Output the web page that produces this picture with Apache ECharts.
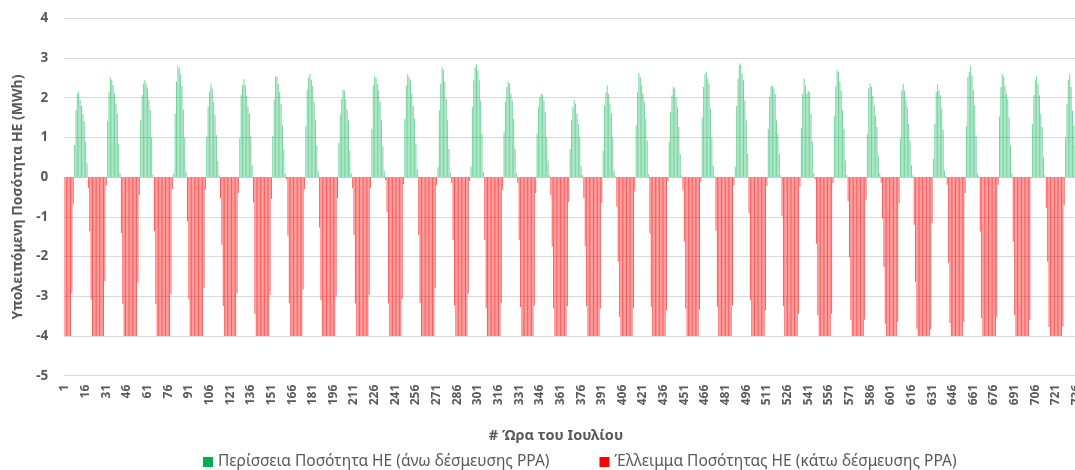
<!DOCTYPE html>
<html><head><meta charset="utf-8">
<script src="https://cdn.jsdelivr.net/npm/echarts@6/dist/echarts.min.js"></script>
<style>html,body{margin:0;padding:0;background:#fff;overflow:hidden;width:1075px;height:470px}#c{width:1090px;height:470px}</style>
</head><body><div id="c"></div>
<script>
// Net hourly quantity (MWh) per day of July, 24 values per day
const day01 = [-4,-4,-4,-4,-4,-2.91,-0.69,0.81,1.69,2.1,2.15,1.95,1.79,1.6,1.4,0.9,0.35,-0.28,-1.36,-3.08,-4,-4,-4,-4];
const day02 = [-4,-4,-4,-4,-4,-2.62,-0.2,1.42,2.15,2.51,2.44,2.32,2.1,1.85,1.6,0.84,0.1,-1.41,-3.2,-4,-4,-4,-4,-4];
const day03 = [-4,-4,-4,-4,-4,-2.66,-0.45,1.44,2.07,2.36,2.44,2.36,2.23,1.95,1.69,1.0,0.06,-1.36,-3.2,-4,-4,-4,-4,-4];
const day04 = [-4,-4,-4,-4,-4,-2.95,-0.3,0.08,1.6,2.4,2.8,2.75,2.6,2.3,1.7,1.0,0.14,-1.11,-3.08,-4,-4,-4,-4,-4];
const day05 = [-4,-4,-4,-4,-4,-2.79,-0.32,1.02,1.77,2.15,2.34,2.23,1.9,1.56,1.06,0.4,0.05,-0.53,-1.7,-3.25,-4,-4,-4,-4];
const day06 = [-4,-4,-4,-4,-4,-2.91,-0.4,0.98,2.07,2.32,2.47,2.32,2.05,1.77,1.6,1.03,0.3,-0.63,-3.44,-4,-4,-4,-4,-4];
const day07 = [-4,-4,-4,-4,-4,-2.97,-0.55,1.03,1.95,2.54,2.52,2.35,2.14,1.85,1.32,0.69,0.1,-0.05,-1.47,-3.17,-4,-4,-4,-4];
const day08 = [-4,-4,-4,-4,-4,-2.83,-0.3,1.28,2.2,2.5,2.6,2.45,2.3,1.9,1.43,0.8,0.15,-1.27,-3.1,-4,-4,-4,-4,-4];
const day09 = [-4,-4,-4,-4,-4,-3.0,-0.53,0.86,1.58,1.97,2.2,2.18,1.97,1.7,1.43,0.67,0.1,-0.28,-1.46,-3.18,-4,-4,-4,-4];
const day10 = [-4,-4,-4,-4,-4,-2.97,-0.28,1.22,2.31,2.54,2.5,2.35,2.18,1.9,1.43,0.77,0.15,-0.07,-0.87,-3.18,-4,-4,-4,-4];
const day11 = [-4,-4,-4,-4,-4,-3.06,-0.17,1.47,2.3,2.6,2.52,2.44,2.1,1.8,1.47,0.84,0.2,-1.46,-3.17,-4,-4,-4,-4,-4];
const day12 = [-4,-4,-4,-4,-4,-2.8,-0.2,0.25,1.68,2.35,2.76,2.69,2.4,1.97,1.43,0.71,0.12,-0.15,-1.58,-3.23,-4,-4,-4,-4];
const day13 = [-4,-4,-4,-4,-4,-2.93,-0.1,0.27,1.76,2.44,2.77,2.84,2.69,2.44,1.93,1.09,0.13,-1.58,-3.3,-4,-4,-4,-4,-4];
const day14 = [-4,-4,-4,-4,-4,-3.17,-0.32,1.13,1.9,2.27,2.4,2.35,2.1,1.93,1.47,0.71,0.1,-0.15,-1.58,-3.27,-4,-4,-4,-4];
const day15 = [-4,-4,-4,-4,-4,-3.23,-0.4,1.09,1.76,2.02,2.1,2.08,1.93,1.64,1.0,0.42,0.05,-0.45,-1.75,-3.31,-4,-4,-4,-4];
const day16 = [-4,-4,-4,-4,-4,-3.25,-0.63,0.71,1.43,1.76,1.95,1.85,1.6,1.34,1.0,0.29,0.05,-0.53,-1.74,-3.25,-4,-4,-4,-4];
const day17 = [-4,-4,-4,-4,-4,-3.31,-0.66,0.66,1.8,2.14,2.31,2.1,1.85,1.6,1.0,0.17,0.03,-0.74,-2.13,-3.52,-4,-4,-4,-4];
const day18 = [-4,-4,-4,-4,-4,-3.29,-0.36,1.3,2.14,2.62,2.52,2.31,2.1,1.89,1.47,0.92,0.08,-1.42,-3.27,-4,-4,-4,-4,-4];
const day19 = [-4,-4,-4,-4,-4,-3.35,-0.1,0.9,1.64,2.06,2.27,2.23,2.0,1.76,1.26,0.59,0.05,-0.32,-1.63,-3.31,-4,-4,-4,-4];
const day20 = [-4,-4,-4,-4,-4,-3.34,-0.13,1.5,2.27,2.6,2.65,2.48,2.35,1.72,1.0,0.29,0.03,-1.35,-3.27,-4,-4,-4,-4,-4];
const day21 = [-4,-4,-4,-4,-4,-3.23,-0.2,0.27,1.8,2.48,2.82,2.86,2.6,2.44,1.93,1.43,0.59,-0.91,-3.1,-4,-4,-4,-4,-4];
const day22 = [-4,-4,-4,-4,-4,-3.35,-0.22,1.22,2.02,2.29,2.31,2.23,2.1,1.43,1.09,0.59,0.05,-0.98,-3.25,-4,-4,-4,-4,-4];
const day23 = [-4,-4,-4,-4,-4,-3.44,-0.24,1.24,2.1,2.48,2.31,2.1,2.18,2.14,1.58,0.9,0.1,-0.05,-1.68,-3.48,-4,-4,-4,-4];
const day24 = [-4,-4,-4,-4,-4,-3.44,-0.15,1.53,2.29,2.69,2.65,2.4,2.17,1.7,1.22,0.42,0.05,-0.61,-2.02,-3.6,-4,-4,-4,-4];
const day25 = [-4,-4,-4,-4,-4,-3.59,-0.57,1.08,2.23,2.35,2.27,2.05,1.8,1.55,1.26,0.55,0.1,-0.15,-1.04,-2.26,-3.69,-4,-4,-4];
const day26 = [-4,-4,-4,-4,-4,-3.65,-0.66,0.97,2.18,2.35,2.18,1.95,1.76,1.34,0.92,0.3,0.05,-1.2,-2.64,-3.82,-4,-4,-4,-4];
const day27 = [-4,-4,-4,-4,-4,-3.84,-1.16,0.46,1.34,2.14,2.33,2.18,2.06,1.72,1.2,0.17,0.03,-0.19,-2.17,-3.67,-4,-4,-4,-4];
const day28 = [-4,-4,-4,-4,-4,-3.65,-0.4,1.28,2.52,2.65,2.79,2.56,2.18,1.8,1.05,0.1,0.02,-1.37,-3.55,-4,-4,-4,-4,-4];
const day29 = [-4,-4,-4,-4,-4,-3.52,-0.19,1.53,2.27,2.6,2.52,2.31,2.1,1.97,1.51,0.8,0.1,-1.63,-3.48,-4,-4,-4,-4,-4];
const day30 = [-4,-4,-4,-4,-4,-3.6,-0.03,1.33,2.06,2.44,2.54,2.35,2.06,1.6,1.26,0.5,0.05,-0.78,-2.13,-3.77,-4,-4,-4,-4];
const day31 = [-4,-4,-4,-4,-4,-3.76,-0.7,1.0,1.85,2.45,2.59,2.27,1.68,1.3,0.8,0.3,0.05,-0.9,-2.5,-3.7,-4,-4,-4,-4];

const seriesNames = ['Περίσσεια Ποσότητα ΗΕ (άνω δέσμευσης PPA)', 'Έλλειμμα Ποσότητας ΗΕ (κάτω δέσμευσης PPA)'];
const xTitle = '# Ώρα του Ιουλίου';
const yTitle = 'Υπολειπόμενη Ποσότητα ΗΕ (MWh)';

const days = [day01,day02,day03,day04,day05,day06,day07,day08,day09,day10,day11,day12,day13,day14,day15,day16,
  day17,day18,day19,day20,day21,day22,day23,day24,day25,day26,day27,day28,day29,day30,day31];
const netValues = [].concat(...days);
const hours = netValues.map((_, i) => String(i + 1));
const surplus = netValues.map(v => v > 0 ? v : '-');
const deficit = netValues.map(v => v < 0 ? v : '-');

const FONT = '"Noto Sans", "Open Sans", sans-serif';
const GRAY = '#595959';
const chart = echarts.init(document.getElementById('c'), null, {renderer: 'canvas'});
chart.setOption({
  animation: false,
  backgroundColor: '#ffffff',
  textStyle: {fontFamily: FONT},
  grid: {left: 64.3, top: 18.3, width: 1024, height: 357.4, containLabel: false},
  legend: {
    left: 203, top: 454, padding: 0, itemWidth: 10, itemHeight: 10, itemGap: 50, icon: 'rect',
    textStyle: {fontFamily: FONT, fontSize: 15.5, color: GRAY},
    data: [
      {name: seriesNames[0], itemStyle: {color: '#00B050', opacity: 1}},
      {name: seriesNames[1], itemStyle: {color: '#FF0000', opacity: 1}}
    ]
  },
  graphic: [{
    type: 'text', x: 556, y: 436,
    style: {text: xTitle, align: 'center', verticalAlign: 'middle',
      font: 'bold 14.5px ' + FONT, fill: GRAY}
  }],
  xAxis: {
    type: 'category', data: hours,
    axisLine: {show: false}, axisTick: {show: false},
    axisLabel: {interval: 14, rotate: 90, margin: 9, fontSize: 12, fontWeight: 'bold', color: GRAY, fontFamily: FONT},
    splitLine: {show: false}
  },
  yAxis: {
    type: 'value', min: -5, max: 4, interval: 1,
    name: yTitle, nameLocation: 'middle', nameGap: 38,
    nameTextStyle: {fontFamily: FONT, fontSize: 14, fontWeight: 'bold', color: GRAY},
    axisLine: {show: false}, axisTick: {show: false},
    axisLabel: {margin: 16, fontSize: 13.5, fontWeight: 'bold', color: GRAY, fontFamily: FONT},
    splitLine: {lineStyle: {color: '#d9d9d9', width: 1}}
  },
  series: [
    {name: seriesNames[0], type: 'bar', data: surplus, barGap: '-100%', barCategoryGap: '30%',
      itemStyle: {color: 'rgba(0,176,80,0.55)'}},
    {name: seriesNames[1], type: 'bar', data: deficit, barGap: '-100%', barCategoryGap: '30%',
      itemStyle: {color: 'rgba(255,0,0,0.65)'}}
  ]
});
</script></body></html>
